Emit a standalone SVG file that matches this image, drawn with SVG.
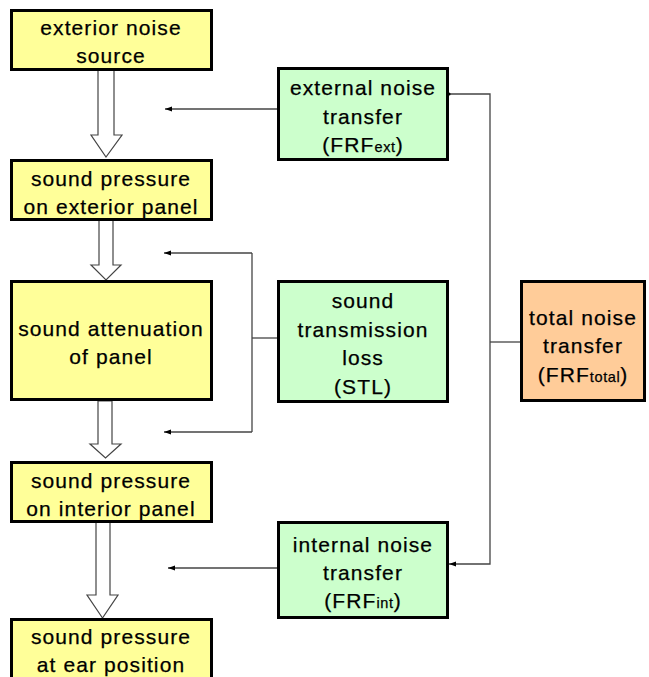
<svg xmlns="http://www.w3.org/2000/svg" width="649" height="677" viewBox="0 0 649 677">
  <style>
    .box { stroke: #000; stroke-width: 3; }
    .stage { fill: #FFFF99; }
    .path { fill: #CCFFCC; }
    .total { fill: #FFCC99; }
    text { font-family: "Liberation Sans", Arial, sans-serif; font-size: 21px; letter-spacing: 1.1px; fill: #000; stroke: #000; stroke-width: 0.25; text-anchor: middle; }
    .sub { font-size: 14.5px; letter-spacing: 0.6px; }
    .flow { fill: #fff; stroke: #444; stroke-width: 1.2; }
    .wire { fill: none; stroke: #444; stroke-width: 1.3; }
  </style>
  <defs>
    <marker id="head" viewBox="0 0 7 6" refX="7" refY="3" markerWidth="7" markerHeight="6" markerUnits="userSpaceOnUse" orient="auto">
      <path d="M0,0.5 L7,3 L0,5.5 Z" fill="#000"/>
    </marker>
    <marker id="dot" viewBox="0 0 4 4" refX="2" refY="2" markerWidth="4" markerHeight="4" markerUnits="userSpaceOnUse">
      <circle cx="2" cy="2" r="1.6" fill="#000"/>
    </marker>
  </defs>

  <!-- hollow flow arrows between the stages -->
  <g id="flow-arrows">
    <path class="flow" d="M98,70 L114,70 L114,135 L122,135 L106,157 L91,135 L98,135 Z"/>
    <path class="flow" d="M99,220 L113,220 L113,265 L121,265 L106,280 L91,265 L99,265 Z"/>
    <path class="flow" d="M98,401 L112,401 L112,444 L121,444 L105.5,458 L90,444 L98,444 Z"/>
    <path class="flow" d="M96,522 L110,522 L110,595 L118,595 L102.5,618 L87,595 L96,595 Z"/>
  </g>

  <!-- thin connectors -->
  <g id="connectors">
    <line class="wire" x1="278" y1="109" x2="165" y2="109" marker-end="url(#head)"/>
    <polyline class="wire" points="278,338 252,338"/>
    <polyline class="wire" points="252,253 252,432"/>
    <line class="wire" x1="252" y1="253" x2="164" y2="253" marker-end="url(#head)"/>
    <line class="wire" x1="252" y1="432" x2="164" y2="432" marker-end="url(#head)"/>
    <line class="wire" x1="278" y1="568" x2="168" y2="568" marker-end="url(#head)"/>
    <polyline class="wire" points="449,94 490,94 490,564 449,564" marker-start="url(#dot)" marker-end="url(#head)"/>
    <line class="wire" x1="490" y1="342" x2="520" y2="342"/>
  </g>

  <g id="exterior-noise-source">
    <rect class="box stage" x="11.5" y="10.5" width="200" height="59"/>
    <text x="111" y="35">exterior noise</text>
    <text x="111" y="63">source</text>
  </g>

  <g id="pressure-exterior-panel">
    <rect class="box stage" x="11.5" y="160.5" width="200" height="59"/>
    <text x="111" y="186">sound pressure</text>
    <text x="111" y="214">on exterior panel</text>
  </g>

  <g id="attenuation-of-panel">
    <rect class="box stage" x="11.5" y="281.5" width="200" height="118"/>
    <text x="111" y="336">sound attenuation</text>
    <text x="111" y="364">of panel</text>
  </g>

  <g id="pressure-interior-panel">
    <rect class="box stage" x="11.5" y="462.5" width="200" height="59"/>
    <text x="111" y="488">sound pressure</text>
    <text x="111" y="516">on interior panel</text>
  </g>

  <g id="pressure-ear-position">
    <rect class="box stage" x="11.5" y="619.5" width="200" height="70"/>
    <text x="111" y="644">sound pressure</text>
    <text x="111" y="672">at ear position</text>
  </g>

  <g id="external-noise-transfer">
    <rect class="box path" x="278.5" y="68.5" width="169" height="91"/>
    <text x="363" y="95">external noise</text>
    <text x="363" y="124">transfer</text>
    <text x="363" y="152">(FRF<tspan class="sub">ext</tspan>)</text>
  </g>

  <g id="sound-transmission-loss">
    <rect class="box path" x="278.5" y="281.5" width="169" height="120"/>
    <text x="363" y="308">sound</text>
    <text x="363" y="337">transmission</text>
    <text x="363" y="365">loss</text>
    <text x="363" y="394">(STL)</text>
  </g>

  <g id="internal-noise-transfer">
    <rect class="box path" x="278.5" y="522.5" width="169" height="95"/>
    <text x="363" y="552">internal noise</text>
    <text x="363" y="580">transfer</text>
    <text x="363" y="608">(FRF<tspan class="sub">int</tspan>)</text>
  </g>

  <g id="total-noise-transfer">
    <rect class="box total" x="521.5" y="281.5" width="123" height="119"/>
    <text x="583" y="325">total noise</text>
    <text x="583" y="353">transfer</text>
    <text x="583" y="382">(FRF<tspan class="sub">total</tspan>)</text>
  </g>
</svg>
